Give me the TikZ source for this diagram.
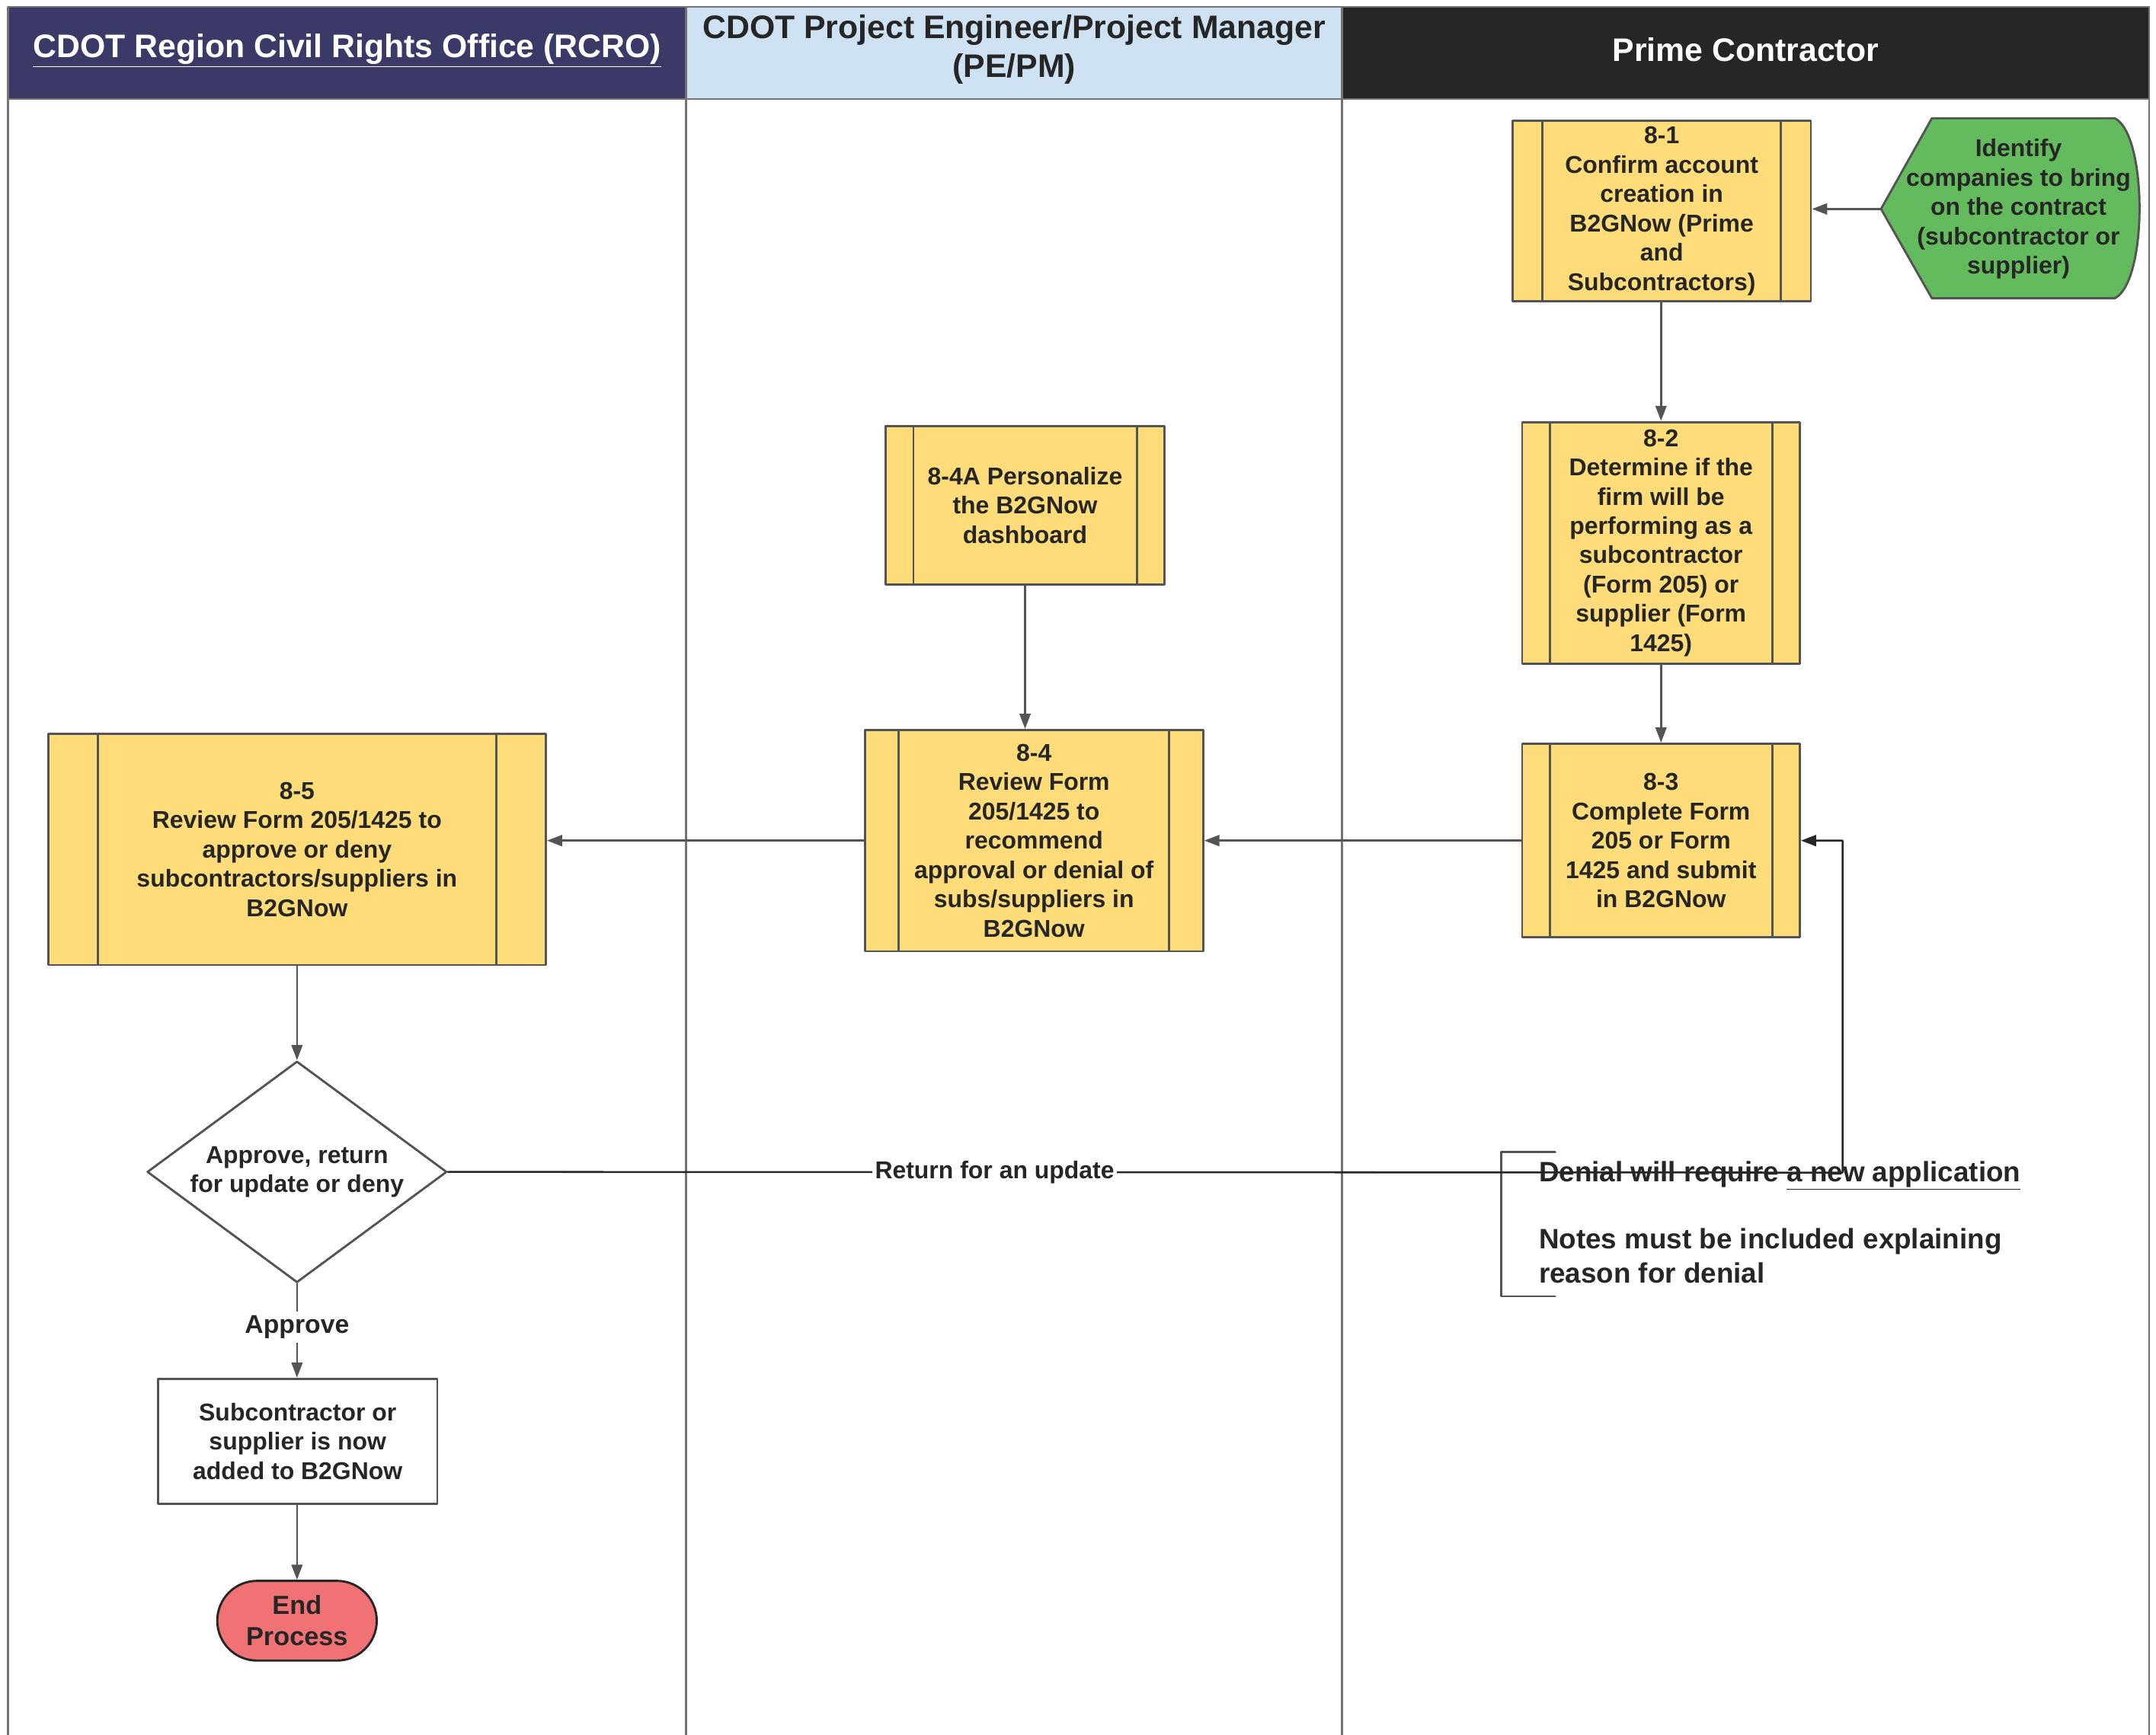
\documentclass[tikz,border=0pt]{standalone}
\usepackage{fontspec}
\setmainfont{Liberation Sans}
\usetikzlibrary{arrows.meta,shapes.geometric,calc}
\definecolor{hdrnavy}{rgb}{0.231,0.224,0.408}
\definecolor{hdrblue}{rgb}{0.812,0.886,0.953}
\definecolor{hdrblack}{rgb}{0.149,0.149,0.149}
\definecolor{procyellow}{rgb}{0.992,0.863,0.475}
\definecolor{dispgreen}{rgb}{0.388,0.733,0.369}
\definecolor{endred}{rgb}{0.941,0.447,0.455}
\definecolor{boxgray}{rgb}{0.33,0.33,0.33}
\definecolor{lanegray}{rgb}{0.45,0.45,0.45}
\definecolor{txtdark}{rgb}{0.15,0.15,0.15}

\begin{document}
\begin{tikzpicture}[line cap=round,line join=round,>={Triangle[length=11pt,width=8pt]},x=1pt,y=-1pt,
  every node/.style={font=\bfseries\fontsize{17.7}{21.3}\selectfont,text=txtdark},
  procbox/.style={draw=boxgray,line width=1.6pt,fill=procyellow,align=center,inner sep=0pt,
    path picture={
      \draw[boxgray,line width=1.6pt] ($(path picture bounding box.north west)!0.1!(path picture bounding box.north east)$) -- ($(path picture bounding box.south west)!0.1!(path picture bounding box.south east)$);
      \draw[boxgray,line width=1.6pt] ($(path picture bounding box.north east)!0.1!(path picture bounding box.north west)$) -- ($(path picture bounding box.south east)!0.1!(path picture bounding box.south west)$);}},
  flow/.style={->,draw=boxgray,line width=1.4pt},
  lane/.style={draw=lanegray,line width=1.5pt},
  hdr/.style={font=\bfseries\fontsize{23.7}{28}\selectfont,align=center}]
\useasboundingbox (0,0) rectangle (1568,1262);
% header row
\fill[hdrnavy] (6,5) rectangle (499,72);
\fill[hdrblue] (499,5) rectangle (976,72);
\fill[hdrblack] (976,5) rectangle (1563,72);
\node[hdr,text=white] (hdrrcro) at (252.5,37) {\underline{CDOT Region Civil Rights Office (RCRO)}};
\node[hdr] (hdrpe) at (737.5,36) {CDOT Project Engineer/Project Manager\\(PE/PM)};
\node[hdr,text=white] (hdrprime) at (1269.5,36) {Prime Contractor};
% lanes
\draw[lane] (6,5) -- (1563,5);
\draw[lane] (6,72) -- (1563,72);
\draw[lane] (6,5) -- (6,1262);
\draw[lane] (499,5) -- (499,1262);
\draw[lane] (976,5) -- (976,1262);
\draw[lane] (1563,5) -- (1563,1262);
% prime contractor
\filldraw[draw=boxgray,fill=dispgreen,line width=1.6pt] (1368,152) -- (1405,86) -- (1538,86) .. controls (1562,98) and (1562,205) .. (1538,217) -- (1405,217) -- cycle;
\node[align=center,minimum width=200,minimum height=131,inner sep=0pt] (ident) at (1468,152) {Identify\\companies to bring\\on the contract\\(subcontractor or\\supplier)};
\node[procbox,minimum width=217,minimum height=131] (s81) at (1208.5,153.5) {8-1\\Confirm account\\creation in\\B2GNow (Prime\\and\\Subcontractors)};
\node[procbox,minimum width=202,minimum height=176] (s82) at (1208,395) {8-2\\Determine if the\\firm will be\\performing as a\\subcontractor\\(Form 205) or\\supplier (Form\\1425)};
\node[procbox,minimum width=202,minimum height=141] (s83) at (1208,611.5) {8-3\\Complete Form\\205 or Form\\1425 and submit\\in B2GNow};
% PE/PM
\node[procbox,minimum width=203,minimum height=115] (s84a) at (745.5,367.5) {8-4A Personalize\\the B2GNow\\dashboard};
\node[procbox,minimum width=246,minimum height=161] (s84) at (752,611.5) {8-4\\Review Form\\205/1425 to\\recommend\\approval or denial of\\subs/suppliers in\\B2GNow};
% RCRO
\node[procbox,minimum width=362,minimum height=168] (s85) at (216,618) {8-5\\Review Form 205/1425 to\\approve or deny\\subcontractors/suppliers in\\B2GNow};
\node[diamond,aspect=1.35,draw=boxgray,fill=white,line width=1.6pt,minimum width=218,minimum height=161,inner sep=2pt,align=center] (decide) at (216,852.5) {Approve, return\\for update or deny};
\node[draw=boxgray,fill=white,line width=1.6pt,minimum width=203,minimum height=91,align=center] (added) at (216.5,1048.5) {Subcontractor or\\supplier is now\\added to B2GNow};
\node[draw=hdrblack,fill=endred,line width=1.6pt,minimum width=116,minimum height=58,rounded corners=29pt,inner sep=0pt,align=center,font=\bfseries\fontsize{19}{23}\selectfont] (endp) at (216,1179) {End\\Process};
% note
\draw[boxgray,line width=1.6pt] (1131,838) -- (1092,838) -- (1092,943) -- (1131,943);
\node[anchor=west,align=left,inner sep=0pt,font=\bfseries\fontsize{20.4}{24.5}\selectfont] (note) at (1119,889) {Denial will require \underline{a new application}\\[24.5pt]Notes must be included explaining\\reason for denial};
% connectors
\draw[flow] (ident.west) -- (s81.east |- ident.west);
\draw[flow] (s82.north |- s81.south) -- (s82.north);
\draw[flow] (s82.south) -- (s83.north);
\draw[flow] (s84a.south) -- (s84a.south |- s84.north);
\draw[flow] (s83.west) -- (s84.east);
\draw[flow] (s84.west) -- (s84.west -| s85.east);
\draw[flow] (s85.south) -- (decide.north);
\draw[flow] (decide.south) -- node[pos=0.46,fill=white,inner sep=3pt,font=\bfseries\fontsize{18.7}{22}\selectfont] {Approve} (decide.south |- added.north);
\draw[flow] (endp.north |- added.south) -- (endp.north);
\coordinate (ret) at (1340,853);
\draw[flow,draw=hdrblack] (decide.east) -- node[pos=0.392,fill=white,inner sep=2pt] {Return for an update} (ret) |- (s83.east);
\end{tikzpicture}
\end{document}
